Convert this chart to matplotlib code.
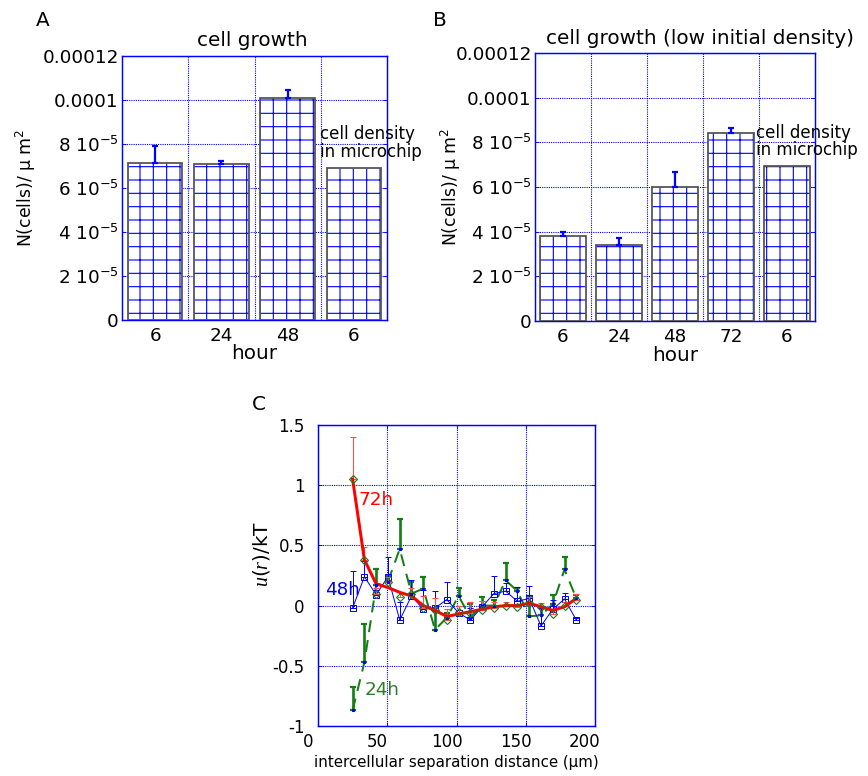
import matplotlib.pyplot as plt
import matplotlib.transforms as mtransforms

plt.rcParams['font.family'] = ['DejaVu Sans']
plt.rcParams['mathtext.fontset'] = 'custom'
plt.rcParams['mathtext.rm'] = 'DejaVu Sans'
plt.rcParams['mathtext.it'] = 'Liberation Serif:italic'
plt.rcParams['mathtext.default'] = 'regular'
plt.rcParams['hatch.linewidth'] = 1.0

# panel A : cell growth
hours_a = ['6', '24', '48', '6']
density_a = [7.15e-5, 7.08e-5, 1.008e-4, 6.9e-5]
err_a = [0.77e-5, 0.15e-5, 0.36e-5]

# panel B : cell growth (low initial density)
hours_b = ['6', '24', '48', '72', '6']
density_b = [3.8e-5, 3.39e-5, 5.98e-5, 8.44e-5, 6.93e-5]
err_b = [0.18e-5, 0.34e-5, 0.71e-5, 0.22e-5]

dens_ticks = [0, 2e-5, 4e-5, 6e-5, 8e-5, 1e-4, 1.2e-4]
dens_labels = ['0', '2 10$^{-5}$', '4 10$^{-5}$', '6 10$^{-5}$',
               '8 10$^{-5}$', '0.0001', '0.00012']

# panel C : u(r)/kT vs distance
dist = [25, 33.5, 42, 50.5, 59, 67.5, 76, 84.5, 93, 101.5,
        110, 118.5, 127, 135.5, 144, 152.5, 161, 169.5, 178, 186.5]
u24 = [-0.87, -0.47, 0.17, 0.2, 0.47, 0.1, 0.14, -0.2, -0.1, 0.08,
       -0.1, 0.0, 0.0, 0.21, 0.12, -0.09, -0.08, 0.01, 0.3, 0.06]
u24_err = [0.19, 0.32, 0.13, 0.05, 0.25, 0.1, 0.1, 0.18, 0.04, 0.07,
           0.11, 0.07, 0.05, 0.14, 0.03, 0.17, 0.07, 0.08, 0.1, 0.03]
u48 = [-0.02, 0.24, 0.09, 0.24, -0.12, 0.08, -0.03, -0.02, 0.05, -0.06,
       -0.12, -0.01, 0.1, 0.12, 0.035, 0.06, -0.17, -0.03, 0.055, -0.12]
u48_err = [0.31, 0.13, 0.04, 0.16, 0.15, 0.13, 0.16, 0.14, 0.15, 0.06,
           0.1, 0.05, 0.15, 0.07, 0.12, 0.1, 0.15, 0.08, 0.05, 0.02]
u72 = [1.05, 0.38, 0.1, 0.2, 0.07, 0.1, -0.02, -0.04, -0.12, -0.05,
       -0.06, -0.04, -0.02, 0.0, -0.01, 0.02, -0.01, -0.07, 0.0, 0.05]
u72_err = [0.35, 0.11, 0.05, 0.04, 0.04, 0.05, 0.1, 0.1, 0.09, 0.05,
           0.09, 0.08, 0.05, 0.03, 0.02, 0.05, 0.03, 0.03, 0.03, 0.05]
u72_fit = [1.05, 0.38, 0.18, 0.15, 0.11, 0.08, 0.0, -0.04, -0.09, -0.07,
           -0.05, -0.03, -0.01, 0.0, 0.0, 0.02, -0.01, -0.04, -0.01, 0.06]

W, H = 868, 776
fig = plt.figure(figsize=(W / 80, H / 80), dpi=80)


def box(left, top, right, bottom):
    return [left / W, 1 - bottom / H, (right - left) / W, (bottom - top) / H]


def style_axes(ax):
    for s in ax.spines.values():
        s.set_color('blue')
        s.set_linewidth(1.3)
    ax.set_axisbelow(True)


def bar_panel(ax, labels, vals, errs, note_x):
    x = list(range(len(labels)))
    ax.bar(x, vals, width=0.82, color='white', edgecolor='blue', hatch='+',
           linewidth=0, zorder=2)
    ax.bar(x, vals, width=0.82, fill=False, edgecolor='#555555',
           linewidth=1.6, zorder=3)
    n = len(errs)
    ax.errorbar(x[:n], vals[:n], yerr=[[0] * n, errs], fmt='none',
                ecolor='blue', elinewidth=2, capsize=3, capthick=2, zorder=4)
    ax.set_xlim(-0.5, len(labels) - 0.5)
    ax.set_ylim(0, 1.2e-4)
    ax.set_xticks(x)
    ax.set_xticklabels(labels)
    ax.set_xticks([i + 0.5 for i in x[:-1]], minor=True)
    ax.set_yticks(dens_ticks)
    ax.set_yticklabels(dens_labels)
    ax.tick_params(axis='x', which='major', length=0, labelsize=16.5, pad=6)
    ax.tick_params(axis='x', which='minor', length=0)
    ax.tick_params(axis='y', direction='in', length=4, color='blue',
                   labelsize=16.5, pad=3, right=True)
    ax.grid(True, which='minor', axis='x', color='blue', linestyle=(0, (1, 1)), lw=1)
    ax.grid(True, which='major', axis='y', color='blue', linestyle=(0, (1, 1)), lw=1)
    ax.text(note_x, 8.05e-5, 'cell density\nin microchip', fontsize=15,
            ha='left', va='center', linespacing=0.95, clip_on=False, zorder=5)
    ax.set_xlabel('hour', fontsize=18)
    ax.set_ylabel('N(cells)/ μ m$^{2}$', fontsize=15.5)
    style_axes(ax)


ax_a = fig.add_axes(box(122, 56, 387, 320))
bar_panel(ax_a, hours_a, density_a, err_a, 2.49)
ax_a.xaxis.set_label_coords(0.5, -0.09)
ax_a.yaxis.set_label_coords(-0.317, 0.5)

ax_b = fig.add_axes(box(535, 53, 815, 321))
bar_panel(ax_b, hours_b, density_b, err_b, 3.45)
ax_b.xaxis.set_label_coords(0.5, -0.092)
ax_b.yaxis.set_label_coords(-0.257, 0.5)

fig.text(252 / W, 1 - 46 / H, 'cell growth', fontsize=18, ha='center', va='baseline')
fig.text(700 / W, 1 - 44 / H, 'cell growth (low initial density)', fontsize=18,
         ha='center', va='baseline')

# panel C
ax_c = fig.add_axes(box(318, 425, 595, 726))
green = '#137f13'
ax_c.errorbar(dist, u24, yerr=[[0] * len(u24), u24_err], fmt='none',
              ecolor=green, elinewidth=2.4, capsize=3, capthick=2, zorder=3)
ax_c.plot(dist, u24, color=green, lw=1.8, dashes=(6, 4), zorder=3)
ax_c.plot(dist, u24, 's', color='blue', ms=2.5, zorder=6)
ax_c.errorbar(dist, u48, yerr=[[0] * len(u48), u48_err], fmt='none',
              ecolor='blue', elinewidth=0.9, capsize=3, capthick=0.9, zorder=4)
ax_c.plot(dist, u48, color='blue', lw=0.9, marker='s', ms=6, mfc='none',
          mec='blue', mew=0.9, zorder=4)
ax_c.errorbar(dist, u72, yerr=[[0] * len(u72), u72_err], fmt='none',
              ecolor='#ff5050', elinewidth=1, capsize=3, capthick=1, zorder=5)
ax_c.plot(dist, u72_fit, color='red', lw=2.7, zorder=5)
ax_c.plot(dist, u72, 'D', ms=4.5, mfc='none', mec='#1a7a1a', mew=1, zorder=7)

ax_c.text(29, 0.88, '72h', color='red', fontsize=16.5, va='center')
ax_c.text(5, 0.13, '48h', color='blue', fontsize=16.5, va='center')
ax_c.text(34, -0.7, '24h', color='#2e7d2e', fontsize=16.5, va='center')

ax_c.set_xlim(0, 200)
ax_c.set_ylim(-1, 1.5)
ax_c.set_xticks([0, 50, 100, 150, 200])
ax_c.set_yticks([-1, -0.5, 0, 0.5, 1, 1.5])
ax_c.set_yticklabels(['-1', '-0.5', '0', '0.5', '1', '1.5'])
ax_c.tick_params(direction='in', length=4, color='blue', labelsize=15,
                 top=True, right=True)
ax_c.tick_params(axis='y', pad=12)
ax_c.tick_params(axis='x', pad=6)
shift = mtransforms.ScaledTranslation(-10 / 80, 0, fig.dpi_scale_trans)
for lbl in ax_c.get_xticklabels():
    lbl.set_transform(lbl.get_transform() + shift)
ax_c.grid(True, color='blue', linestyle=(0, (1, 1)), lw=1)
ax_c.set_xlabel('intercellular separation distance (μm)', fontsize=13.5)
ax_c.xaxis.set_label_coords(0.5, -0.096)
ax_c.set_ylabel(r'$\mathit{u(r)}$/kT', fontsize=18)
ax_c.yaxis.set_label_coords(-0.167, 0.572)
style_axes(ax_c)

fig.text(43 / W, 1 - 20 / H, 'A', fontsize=18, ha='center', va='center')
fig.text(440 / W, 1 - 20 / H, 'B', fontsize=18, ha='center', va='center')
fig.text(259 / W, 1 - 405 / H, 'C', fontsize=18, ha='center', va='center')

fig.savefig('out.png', dpi=80)
